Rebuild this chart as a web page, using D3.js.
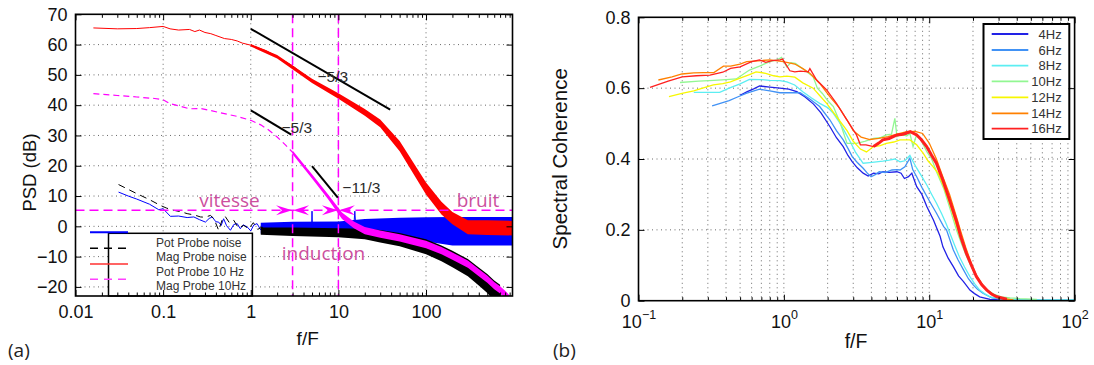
<!DOCTYPE html>
<html><head><meta charset="utf-8">
<script src="https://cdn.jsdelivr.net/npm/d3@7/dist/d3.min.js"></script>
<style>
html,body{margin:0;padding:0;background:#fff;}
svg{display:block;}
</style></head>
<body><svg id="chart" width="1094" height="365"></svg>
<script>
// ================= Panel (a) data : PSD (dB) vs f/F =================
const potNoiseF = [0.031,0.04,0.05,0.07,0.089,0.1,0.121,0.15,0.188,0.224, 0.26,0.304,0.335,0.363,0.4,0.43,0.46,0.49,0.53,0.586, 0.64,0.70,0.76,0.82,0.91,1.0,1.08,1.18,1.3,1.42, 1.54,1.7,1.9,2.1,2.3,2.6,2.9,3.2,3.6,4.0, 4.5,4.95,5.0,5.05,5.6,6.3,7,8,9,10, 11,12,13.5,15.0,15.4,15.8,17,20,25,30, 40,50,70,100,150,200,300,500,700,960, 970];
const potNoiseV = [11.3,10,9,7.3,5.5,5.8,3.3,3.4,2.9,3.1, 2.2,1.4,2.6,3.1,1.5,1.4,0.3,2.5,0.2,-1.3, 0.6,0.9,-0.8,0.5,-0.2,-1.5,0.4,0.9,-1.2,0.3, -0.8,-1.6,0.5,-1.0,-0.3,-1.9,0.2,-1.2,-0.5,-1.8, -0.3,-1.0,5,-0.8,-1.5,0,-1.2,-0.3,-1.6,-0.5, -0.9,0.2,-0.6,0,5,-0.3,0.4,0.2,0.3,0, 0.2,-0.2,0,-0.3,-0.3,-0.5,-0.6,-0.6,-0.6,-0.8, -10];
const potNoiseBandF = [1.3,3,10,20,50,100,200,500,970];
const potNoiseHi = [1.2,1.5,1.6,2.4,2.8,3.0,3.1,3.1,3.1];
const potNoiseLo = [-2.4,-2.6,-2.6,-2.0,-3.0,-5.0,-6.3,-6.3,-6.3];

const magNoiseF = [0.031,0.04,0.05,0.07,0.093,0.11,0.132,0.16,0.188,0.23, 0.267,0.3,0.347,0.38,0.43,0.47,0.51,0.57,0.64,0.72, 0.83,0.95,1.07,1.2,1.35,1.5,1.7,2,2.4,2.8, 3.3,4,5,6,7,8.5,10,12,15,20, 30,50,100,150,200,300,400,500,600,700];
const magNoiseV = [13.8,12.2,10.8,8.8,6.9,6.0,5.3,4.8,4.2,3.7, 3.1,3.0,3.6,2.5,-1.3,2.0,3.3,1.2,2.0,-0.5, 0.3,-0.8,1.2,-1.0,-0.2,-1.8,-0.6,-1.5,-0.8,-1.7, -1.0,-1.8,-1.2,-1.9,-1.3,-2.0,-1.6,-1.8,-2.0,-2.4, -3.0,-4.5,-7.8,-10,-12,-15.5,-18.5,-21,-23.4,-25.5];
const magNoiseBandF = [1.3,3,10,20,30,50,100,150,200,300,400,500,600,700];
const magNoiseHi = [-0.4,-0.4,-0.6,-0.8,-1.2,-2.2,-4.3,-6.3,-8.1,-10.8,-13.6,-15.7,-17.9,-19.3];
const magNoiseLo = [-2.8,-3.2,-3.6,-4.3,-5.3,-6.6,-9.2,-11.5,-13.5,-16.5,-19.5,-22,-24.5,-26];

const pot10F = [0.016,0.03,0.05,0.07,0.1,0.12,0.15,0.2,0.23,0.26, 0.3,0.35,0.4,0.5,0.6,0.7,0.8,1,1.5,2, 3,5,7,10,15,20,30,50,70,100, 150,200,300,500,700,970];
const pot10V = [65.5,65.2,65.3,65.6,66,65.2,64.8,65,64.3,64.8, 64,63.6,63,62,61.7,61.2,60.5,59.8,58,56, 53,48,45.5,43,40,37.6,34,26.5,19.5,12.5, 6,2.7,-0.2,-0.4,-0.4,-0.4];
const pot10BandF = [1,2,5,10,20,30,50,100,150,200,300,500,970];
const pot10Hi = [60.2,56.6,48.7,43.9,38.7,35.3,28.2,14.5,8.1,4.7,2.0,2.0,1.8];
const pot10Lo = [59.4,55.4,47.3,42.1,36.5,32.7,24.8,10.5,3.9,0.7,-2.6,-2.9,-3.0];

const mag10F = [0.016,0.03,0.05,0.08,0.1,0.12,0.15,0.2,0.27,0.35, 0.5,0.7,1,1.3,1.6,2,2.5,3,3.3,4, 4.8,6,7.6,9,10,11,12,15,20,30, 50,100,150,200,300,400,500,600,700,800, 900];
const mag10V = [43.8,43.2,42.7,42.2,41.8,40.5,39.8,38.8,38.9,38.2, 37.2,36.3,35,33.5,31.8,29.5,26.8,24.4,23,20, 17,13.8,9.8,7.0,5.3,3.5,2.3,0.5,-1.4,-2.6, -3.8,-6,-8,-9.8,-12.5,-15.3,-17.4,-19.6,-21,-22.5, -24];
const mag10BandF = [3,5,7.6,11,15,20,30,50,100,150,200,300,400,500,600,700,800,900];
const mag10Hi = [25.0,17.2,10.6,4.6,1.6,-0.2,-1.4,-2.6,-4.8,-6.8,-8.6,-11.3,-14.1,-16.2,-18.4,-19.8,-21.3,-22.8];
const mag10Lo = [23.8,15.8,9.0,2.4,-0.6,-2.6,-3.8,-5.0,-7.2,-9.2,-11.0,-13.7,-16.5,-18.6,-20.8,-22.2,-23.7,-25.2];

// annotations (a)
const slopeF = [[1, 39], [1, 2.9], [5, 9.85]];
const slopeDB = [[65.2, 38.5], [38.3, 30.3], [19.9, 9.5]];
const slopeLabels = ["\u22125/3", "\u22125/3", "\u221211/3"];
const slopeLabelF = [5.77, 2.24, 11.1];
const slopeLabelDB = [47.5, 30.7, 10.9];
const markerF = [3, 10];
const noiseLevelDB = 5.3;
const regionLabels = ["vitesse", "induction", "bruit"];
const regionLabelF = [0.571, 6.76, 391.6];
const regionLabelDB = [6.5, -11.2, 6.5];
const legendA = ["Pot Probe noise", "Mag Probe noise", "Pot Probe 10 Hz", "Mag Probe 10Hz"];

// axes (a)
const xTicksA = [0.01, 0.1, 1, 10, 100];
const xTickLabelsA = ["0.01", "0.1", "1", "10", "100"];
const yTicksA = [-20, -10, 0, 10, 20, 30, 40, 50, 60, 70];

// ================= Panel (b) data : spectral coherence =================
const c4F = [0.5,0.56,0.62,0.681,0.8,0.938,1.08,1.227,1.4,1.6,1.8,2.076,2.3,2.56,2.76,2.959,3.2,3.512,3.8,4.14,4.5,4.8,5.3,5.99,6.4,6.75,7.2,7.59,8.2,8.9,9.64,10.69,11.89,12.42,13.5,14.65,15.9,17.21,19.05,20.5,22.24,26.2,32,45,70,100];
const c4V = [0.58,0.59,0.598,0.606,0.603,0.6,0.597,0.59,0.575,0.555,0.53,0.491,0.46,0.435,0.41,0.392,0.375,0.36,0.352,0.36,0.358,0.364,0.362,0.364,0.36,0.345,0.35,0.36,0.322,0.3,0.265,0.228,0.181,0.152,0.12,0.096,0.07,0.054,0.03,0.02,0.011,0.004,0.002,0.001,0.001,0.001];
const c6F = [0.321,0.37,0.42,0.48,0.55,0.6,0.681,0.8,0.938,1.1,1.294,1.5,1.763,2.076,2.3,2.56,2.76,2.959,3.2,3.512,3.75,3.98,4.25,4.53,5.0,5.54,6.0,6.3,6.8,7.36,7.7,8.2,8.9,9.64,10.4,11.22,12.57,13.14,14.65,15.8,17.21,18.6,20.14,21.5,23.39,27,32,40,60,100];
const c6V = [0.55,0.558,0.565,0.575,0.585,0.59,0.597,0.592,0.587,0.587,0.587,0.57,0.548,0.51,0.48,0.454,0.43,0.406,0.39,0.374,0.36,0.35,0.356,0.364,0.362,0.369,0.37,0.369,0.378,0.402,0.37,0.35,0.32,0.294,0.27,0.247,0.209,0.2,0.143,0.115,0.087,0.062,0.044,0.032,0.021,0.008,0.004,0.002,0.001,0.001];
const c8F = [0.24,0.3,0.362,0.42,0.5,0.58,0.7,0.8,0.938,1.05,1.187,1.35,1.55,1.763,2.0,2.19,2.4,2.6,2.85,3.1,3.51,3.9,4.33,4.8,5.31,5.8,6.3,6.8,7.36,7.8,8.2,8.9,9.64,10.4,11.22,12.2,13.14,13.89,15,16.12,17.5,19.05,20.5,22.24,24,26.18,30,40,60,100];
const c8V = [0.588,0.588,0.588,0.6,0.612,0.625,0.624,0.622,0.621,0.618,0.609,0.59,0.572,0.557,0.545,0.529,0.505,0.48,0.45,0.42,0.388,0.39,0.392,0.394,0.397,0.4,0.392,0.395,0.41,0.39,0.374,0.35,0.326,0.3,0.275,0.245,0.215,0.19,0.155,0.124,0.095,0.068,0.048,0.03,0.02,0.011,0.006,0.003,0.002,0.002];
const c10F = [0.193,0.26,0.33,0.4,0.47,0.58,0.68,0.8,0.9,0.964,1.047,1.12,1.2,1.35,1.59,1.7,1.84,2.0,2.19,2.45,2.72,3.16,3.6,4.14,4.6,5.07,5.5,5.8,6.0,6.4,7.0,7.36,7.74,8.2,8.65,9.1,9.64,10.4,11.22,12.57,13.89,15.39,16.7,18.11,19.5,21.09,23,24.88,28,31.33,36,42.1,55];
const c10V = [0.616,0.62,0.622,0.624,0.626,0.651,0.662,0.675,0.68,0.687,0.66,0.672,0.67,0.655,0.632,0.6,0.585,0.565,0.548,0.5,0.444,0.444,0.45,0.458,0.46,0.468,0.47,0.515,0.463,0.47,0.465,0.472,0.435,0.47,0.458,0.44,0.42,0.4,0.364,0.317,0.26,0.2,0.16,0.124,0.095,0.068,0.045,0.03,0.018,0.011,0.008,0.006,0.004];
const c12F = [0.162,0.199,0.24,0.276,0.327,0.38,0.429,0.5,0.58,0.644,0.75,0.85,0.94,1.05,1.19,1.35,1.59,1.8,1.97,2.3,2.72,3.0,3.36,3.7,4.14,4.6,5.07,5.7,6.3,7.36,8.2,9.1,9.8,10.54,11.5,12.5,13.8,15.3,16.8,18.5,20.2,22,24,27,31,37];
const c12V = [0.576,0.585,0.592,0.6,0.609,0.613,0.618,0.628,0.638,0.646,0.642,0.635,0.632,0.634,0.631,0.615,0.6,0.575,0.557,0.52,0.48,0.45,0.428,0.42,0.435,0.438,0.444,0.448,0.454,0.454,0.44,0.416,0.395,0.38,0.36,0.325,0.275,0.215,0.165,0.12,0.085,0.055,0.035,0.018,0.007,0.002];
const c14F = [0.137,0.17,0.199,0.24,0.28,0.33,0.384,0.43,0.5,0.555,0.666,0.8,0.99,1.19,1.35,1.51,1.76,2.07,2.4,2.72,3.0,3.4,3.9,4.5,5.2,6.0,7.0,8.0,9.0,10.0,11.2,12.4,13.8,15.3,16.5,18,19.5,21.1,23,25,28,32,38];
const c14V = [0.623,0.632,0.64,0.643,0.644,0.644,0.662,0.662,0.668,0.675,0.677,0.68,0.675,0.668,0.655,0.642,0.614,0.576,0.545,0.51,0.48,0.462,0.455,0.458,0.463,0.47,0.477,0.478,0.472,0.445,0.4,0.35,0.3,0.24,0.195,0.145,0.105,0.072,0.048,0.03,0.015,0.006,0.002];
const c16F = [0.12,0.16,0.2,0.25,0.31,0.38,0.43,0.5,0.6,0.68,0.75,0.83,0.94,0.98,1.1,1.19,1.3,1.47,1.51,1.68,1.97,2.3,2.72,3.16,3.36,3.67,4.14,4.5,4.8,5.3,6.0,6.6,7.4,8.2,8.8,9.6,10.4,11.2,12.4,13.8,15.3,16.5,18,19.5,21.1,23,24.9,27,29.2,34.2];
const c16V = [0.602,0.62,0.632,0.635,0.637,0.645,0.656,0.66,0.675,0.68,0.673,0.678,0.68,0.682,0.649,0.646,0.648,0.646,0.655,0.623,0.595,0.557,0.51,0.468,0.44,0.44,0.435,0.445,0.454,0.458,0.468,0.47,0.477,0.468,0.455,0.435,0.41,0.388,0.341,0.284,0.228,0.18,0.134,0.1,0.068,0.045,0.03,0.018,0.011,0.004];
const cohNames = ["4Hz","6Hz","8Hz","10Hz","12Hz","14Hz","16Hz"];
const cohColors = ["#2222e6","#4192f5","#5ceef2","#92f792","#f7f700","#ff8000","#ff2020"];
const yTicksB = [0, 0.2, 0.4, 0.6, 0.8];
const xTicksB = [0.1, 1, 10, 100];
const xExpB = ["\u22121", "0", "1", "2"];

// ================= drawing =================
const FONT = '"Liberation Sans", Arial, Helvetica, sans-serif';
const HUM = '"Open Sans", "Noto Sans", sans-serif';
const svg = d3.select("#chart");
const defs = svg.append("defs");
const zip = (f, v) => f.map((d, i) => [d, v[i]]);
const zip3 = (f, lo, hi) => f.map((d, i) => [d, lo[i], hi[i]]);

const A = {l: 75.5, r: 512.5, t: 14.3, b: 296};
const B = {l: 638.5, r: 1074.6, t: 17.3, b: 300.7};
const xA = d3.scaleLog().domain([0.01, 970]).range([A.l, A.r]);
const yA = d3.scaleLinear().domain([-23, 70]).range([A.b, A.t]);
const xB = d3.scaleLog().domain([0.1, 100]).range([B.l, B.r]);
const yB = d3.scaleLinear().domain([0, 0.8]).range([B.b, B.t]);

function clip(id, P) {
  defs.append("clipPath").attr("id", id).append("rect")
    .attr("x", P.l).attr("y", P.t).attr("width", P.r - P.l).attr("height", P.b - P.t);
}
clip("clipA", A); clip("clipB", B);

function minorTicks(lo, hi) {
  const out = [];
  for (let e = Math.floor(Math.log10(lo)); e <= Math.ceil(Math.log10(hi)); e++)
    for (let m = 2; m <= 9; m++) { const v = m * Math.pow(10, e); if (v > lo && v < hi) out.push(+v.toPrecision(6)); }
  return out;
}

function gridLines(g, P, xs, ys, x, y) {
  const gg = g.append("g").attr("stroke", "#6a6a6a").attr("stroke-width", 1).attr("stroke-dasharray", "1,3.5");
  gg.selectAll(".gx").data(xs).join("line").attr("x1", d => x(d)).attr("x2", d => x(d)).attr("y1", P.t).attr("y2", P.b);
  gg.selectAll(".gy").data(ys).join("line").attr("x1", P.l).attr("x2", P.r).attr("y1", d => y(d)).attr("y2", d => y(d));
}

function styleAxis(sel) {
  sel.select(".domain").remove();
  sel.attr("font-family", FONT).attr("font-size", 18);
  sel.selectAll(".tick line").attr("stroke", "#000").attr("stroke-width", 1);
  sel.selectAll(".tick text").attr("fill", "#111");
}

function axesFrame(g, P, x, y, xMaj, yMaj, xMin, xFmt, yFmt, xPad) {
  const bot = g.append("g").attr("transform", `translate(0,${P.b})`)
    .call(d3.axisBottom(x).tickValues(xMaj).tickSize(-6).tickPadding(xPad).tickFormat(xFmt));
  styleAxis(bot);
  const botm = g.append("g").attr("transform", `translate(0,${P.b})`)
    .call(d3.axisBottom(x).tickValues(xMin).tickSize(-3.5).tickFormat(""));
  styleAxis(botm);
  const top = g.append("g").attr("transform", `translate(0,${P.t})`)
    .call(d3.axisTop(x).tickValues(xMaj).tickSize(-6).tickFormat(""));
  styleAxis(top);
  const topm = g.append("g").attr("transform", `translate(0,${P.t})`)
    .call(d3.axisTop(x).tickValues(xMin).tickSize(-3.5).tickFormat(""));
  styleAxis(topm);
  const left = g.append("g").attr("transform", `translate(${P.l},0)`)
    .call(d3.axisLeft(y).tickValues(yMaj).tickSize(-6).tickPadding(8).tickFormat(yFmt));
  styleAxis(left);
  const right = g.append("g").attr("transform", `translate(${P.r},0)`)
    .call(d3.axisRight(y).tickValues(yMaj).tickSize(-6).tickFormat(""));
  styleAxis(right);
  g.append("rect").attr("x", P.l).attr("y", P.t).attr("width", P.r - P.l).attr("height", P.b - P.t)
    .attr("fill", "none").attr("stroke", "#000").attr("stroke-width", 1.6);
  return bot;
}

// ---------- Panel (a) ----------
const gA = svg.append("g");
gridLines(gA, A, [0.1, 1, 10, 100], [-20, -10, 0, 10, 20, 30, 40, 50, 60], xA, yA);
const dA = gA.append("g").attr("clip-path", "url(#clipA)");
const lineA = d3.line().x(d => xA(d[0])).y(d => yA(d[1]));
const areaA = d3.area().x(d => xA(d[0])).y0(d => yA(d[1])).y1(d => yA(d[2]));

dA.append("path").attr("d", lineA(zip(potNoiseF, potNoiseV))).attr("fill", "none").attr("stroke", "#0000ff").attr("stroke-width", 1);
dA.append("path").attr("d", areaA(zip3(potNoiseBandF, potNoiseLo, potNoiseHi))).attr("fill", "#0000ff");
dA.append("path").attr("d", areaA(zip3(magNoiseBandF, magNoiseLo, magNoiseHi))).attr("fill", "#000");
dA.append("path").attr("d", lineA(zip(magNoiseF, magNoiseV))).attr("fill", "none").attr("stroke", "#000").attr("stroke-width", 1).attr("stroke-dasharray", "7,5");
dA.append("path").attr("d", lineA(zip(pot10F, pot10V))).attr("fill", "none").attr("stroke", "#ff0000").attr("stroke-width", 1);
dA.append("path").attr("d", areaA(zip3(pot10BandF, pot10Lo, pot10Hi))).attr("fill", "#ff0000");
dA.append("path").attr("d", lineA(zip(mag10F, mag10V))).attr("fill", "none").attr("stroke", "#ff00ff").attr("stroke-width", 1.2).attr("stroke-dasharray", "6,4");
dA.append("path").attr("d", areaA(zip3(mag10BandF, mag10Lo, mag10Hi))).attr("fill", "#ff00ff");

// annotations
const an = gA.append("g");
an.selectAll(".vl").data(markerF).join("line")
  .attr("x1", d => xA(d)).attr("x2", d => xA(d)).attr("y1", A.t).attr("y2", A.b)
  .attr("stroke", "#ff00ff").attr("stroke-width", 1.5).attr("stroke-dasharray", "9,5");
an.append("line").attr("x1", A.l).attr("x2", A.r).attr("y1", yA(noiseLevelDB)).attr("y2", yA(noiseLevelDB))
  .attr("stroke", "#ff00ff").attr("stroke-width", 1.5).attr("stroke-dasharray", "9,5");
an.selectAll(".sl").data(slopeF).join("line")
  .attr("x1", (d) => xA(d[0])).attr("x2", d => xA(d[1]))
  .attr("y1", (d, i) => yA(slopeDB[i][0])).attr("y2", (d, i) => yA(slopeDB[i][1]))
  .attr("stroke", "#000").attr("stroke-width", 2);
an.selectAll(".slt").data(slopeLabels).join("text")
  .attr("x", (d, i) => xA(slopeLabelF[i])).attr("y", (d, i) => yA(slopeLabelDB[i]))
  .attr("font-family", FONT).attr("font-size", 15.5).attr("fill", "#2a2a2a").text(d => d);
function head(x, y, dir) {
  const L = 16, W = 5, I = 10;
  return `M${x},${y}L${x - dir * L},${y - W}L${x - dir * I},${y}L${x - dir * L},${y + W}Z`;
}
const heads = [[markerF[0], 1, -0.5], [markerF[0], -1, 0.5], [markerF[1], 1, -0.5], [markerF[1], -1, 0.5]];
an.selectAll(".ah").data(heads).join("path")
  .attr("d", d => head(xA(d[0]) + d[2], yA(noiseLevelDB), d[1])).attr("fill", "#ff00ff");
an.selectAll(".rt").data(regionLabels).join("text")
  .attr("x", (d, i) => xA(regionLabelF[i])).attr("y", (d, i) => yA(regionLabelDB[i]))
  .attr("text-anchor", "middle").attr("font-family", HUM).attr("font-size", 19).attr("fill", "#cc4f9e").text(d => d);

// legend (a)
const lgA = gA.append("g");
lgA.append("rect").attr("x", 108.5).attr("y", 233.3).attr("width", 143.9).attr("height", 62.7)
  .attr("fill", "#fff").attr("stroke", "#000").attr("stroke-width", 1.5);
const lgStyles = [["#0000ff", null, 2], ["#000", "8,6", 1.5], ["#ff3030", null, 1.5], ["#ff40ff", "8,6", 1.5]];
const lgLineY = [232.3, 248.3, 264, 279.3];
const lgTextY = [247.3, 261.3, 276, 290];
lgA.selectAll(".ll").data(legendA).join("line")
  .attr("x1", 90).attr("x2", 128).attr("y1", (d, i) => lgLineY[i]).attr("y2", (d, i) => lgLineY[i])
  .attr("stroke", (d, i) => lgStyles[i][0]).attr("stroke-dasharray", (d, i) => lgStyles[i][1]).attr("stroke-width", (d, i) => lgStyles[i][2]);
lgA.selectAll(".lt").data(legendA).join("text")
  .attr("x", 156).attr("y", (d, i) => lgTextY[i]).attr("font-family", FONT).attr("font-size", 12).attr("fill", "#333").text(d => d);

axesFrame(gA, A, xA, yA, xTicksA, yTicksA, minorTicks(0.01, 970), (d, i) => xTickLabelsA[i], d3.format("d"), 9.5);

gA.append("text").attr("transform", "translate(36,172.5) rotate(-90)").attr("text-anchor", "middle")
  .attr("font-family", FONT).attr("font-size", 18.5).attr("fill", "#111").text("PSD (dB)");
gA.append("text").attr("x", 307.7).attr("y", 345).attr("text-anchor", "middle")
  .attr("font-family", FONT).attr("font-size", 19).attr("fill", "#111").text("f/F");
gA.append("text").attr("x", 8).attr("y", 357).attr("font-family", HUM).attr("font-size", 19).attr("fill", "#222").text("(a)");

// ---------- Panel (b) ----------
const gB = svg.append("g");
gridLines(gB, B, [...minorTicks(0.1, 100), 1, 10], [0.2, 0.4, 0.6], xB, yB);
const dB = gB.append("g").attr("clip-path", "url(#clipB)");
const lineB = d3.line().x(d => xB(d[0])).y(d => yB(d[1]));
const cohSeries = [zip(c4F, c4V), zip(c6F, c6V), zip(c8F, c8V), zip(c10F, c10V), zip(c12F, c12V), zip(c14F, c14V), zip(c16F, c16V)];
dB.selectAll(".cl").data(cohSeries).join("path")
  .attr("d", d => lineB(d)).attr("fill", "none").attr("stroke", (d, i) => cohColors[i]).attr("stroke-width", 1.3);
dB.append("path").attr("d", lineB(cohSeries[6].filter(d => d[0] >= 4))).attr("fill", "none")
  .attr("stroke", cohColors[6]).attr("stroke-width", 3);

// legend (b)
const lgB = gB.append("g");
lgB.append("rect").attr("x", 983.5).attr("y", 24).attr("width", 85.8).attr("height", 115)
  .attr("fill", "#fff").attr("stroke", "#000").attr("stroke-width", 2);
const lgBY = [34, 50, 65.7, 81.3, 97.3, 113.3, 128.7];
lgB.selectAll(".bl").data(cohNames).join("line")
  .attr("x1", 991.7).attr("x2", 1028.3).attr("y1", (d, i) => lgBY[i]).attr("y2", (d, i) => lgBY[i])
  .attr("stroke", (d, i) => cohColors[i]).attr("stroke-width", 1.8);
lgB.selectAll(".bt").data(cohNames).join("text")
  .attr("x", 1061.7).attr("y", (d, i) => lgBY[i] + 4.6).attr("text-anchor", "end")
  .attr("font-family", FONT).attr("font-size", 13).attr("fill", "#333").text(d => d);

const botB = axesFrame(gB, B, xB, yB, xTicksB, yTicksB, minorTicks(0.1, 100), () => "", d => d === 0 ? "0" : d3.format(".1f")(d), 15);
botB.selectAll(".tick text").each(function (d, i) {
  const t = d3.select(this);
  t.text(null);
  t.append("tspan").text("10");
  t.append("tspan").attr("dy", -9).attr("font-size", 12.5).text(xExpB[i]);
});

gB.append("text").attr("transform", "translate(567,158.8) rotate(-90)").attr("text-anchor", "middle")
  .attr("font-family", FONT).attr("font-size", 20.5).attr("fill", "#111").text("Spectral Coherence");
gB.append("text").attr("x", 856).attr("y", 348).attr("text-anchor", "middle")
  .attr("font-family", FONT).attr("font-size", 19.5).attr("fill", "#111").text("f/F");
gB.append("text").attr("x", 553).attr("y", 357).attr("font-family", HUM).attr("font-size", 19).attr("fill", "#222").text("(b)");
</script>
</body></html>
